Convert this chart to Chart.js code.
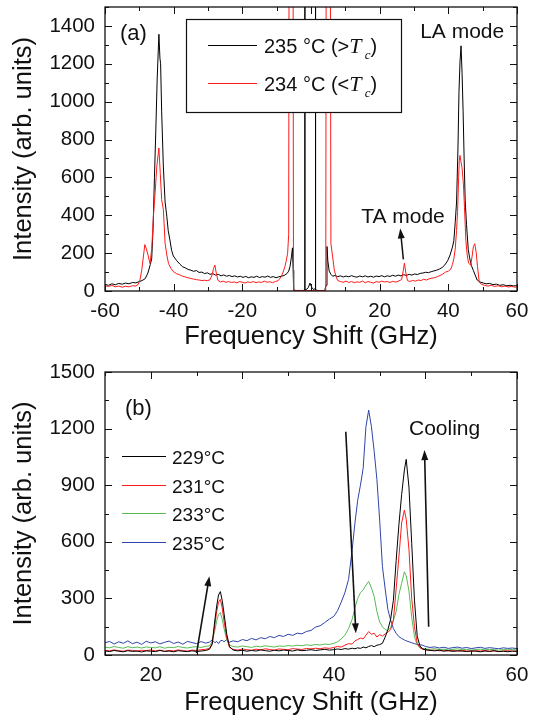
<!DOCTYPE html>
<html>
<head>
<meta charset="utf-8">
<script src="https://cdn.jsdelivr.net/npm/chart.js@4.4.0/dist/chart.umd.min.js"></script>
<style>
  html, body { margin: 0; padding: 0; background: #fff; }
  canvas { display: block; }
</style>
</head>
<body>
<canvas id="chartA" width="536" height="360"></canvas>
<canvas id="chartB" width="536" height="364"></canvas>
<script>
'use strict'

// ---- panel (a): full spectrum, 235 vs 234 C ----
const aFreq235 = [
  -60, -59, -58, -57, -56, -55, -54, -53, -52, -51, -50,
  -49.2, -48.3, -47.5, -46.8, -46.4, -46.0, -45.6, -45.2, -44.8, -44.3, -44.0,
  -43.8, -43.5, -43.0, -42.5, -42.0, -41.6, -41.1, -40.6, -40.1, -39.1, -38.2,
  -37.4, -36.6, -35.8, -35.0, -34.2, -33.4, -32.6, -31.8, -31.0, -30.2, -29.4, -28.6,
  -27.8, -27.0, -26.2, -25.4, -24.6, -23.8, -23.0, -22.2, -21.4, -20.6, -19.8, -19.0,
  -18.2, -17.4, -16.6, -15.8, -15.0, -14.2, -13.4, -12.6, -11.8, -11.0, -10.2, -9.4,
  -8.6, -7.8, -7.0, -6.5, -6.1, -5.7, -5.4, -5.2, -5.05, -4.5, -3.5, -2.5, -1.85, -1.8,
  -1.75, -1.2, -0.8, -0.3, 0.2, 0.7, 1.25, 1.3, 1.35, 2.0, 3.0, 4.0, 4.4, 4.66, 4.9, 5.3,
  5.8, 6.3,
  7.0, 7.8, 8.6, 9.4, 10.2, 11.0, 11.8, 12.6, 13.4, 14.2, 15.0, 15.8, 16.6, 17.4,
  18.2, 19.0, 19.8, 20.6, 21.4, 22.2, 23.0, 23.8, 24.6, 25.4, 26.2, 27.0, 27.8, 28.6,
  29.4, 30.2, 31.0, 31.8, 32.6, 33.4, 34.2, 35.0, 35.8, 36.6, 37.4, 38.2, 39.0, 39.8,
  40.5, 41.2, 41.6, 42.0, 42.4, 42.8, 43.1, 43.4, 43.7, 44.0, 44.3, 44.6, 44.9, 45.3,
  45.8, 46.2, 46.7, 47.3, 47.8, 48.4, 49.2, 50.2,
  51, 52, 53, 54, 55, 56, 57, 58, 59, 60,
]
const aInt235 = [
  35, 30, 38, 33, 40, 36, 42, 38, 45, 43, 50,
  55, 65, 95, 140, 170, 330, 600, 850, 1120, 1356, 1230,
  1200, 950, 655, 470, 395, 320, 270, 215, 185, 160, 142,
  128, 122, 114, 110, 104, 108, 98, 100, 92, 96, 88, 92,
  84, 88, 80, 85, 78, 82, 76, 80, 74, 78, 72, 77,
  70, 75, 72, 78, 71, 76, 73, 79, 72, 76, 70, 75,
  78, 82, 92, 105, 130, 180, 228, 110, 4, 2, 3, 2, 5, 3000,
  5, 10, 18, 42, 20, 8, 12, 3000, 6, 3, 2, 3, 30, 235, 160, 105,
  88, 78,
  82, 76, 80, 74, 79, 75, 81, 76, 73, 79, 75, 80, 74, 78,
  73, 79, 76, 81, 75, 80, 77, 83, 78, 84, 80, 86, 82, 88,
  84, 90, 87, 93, 95, 99, 97, 102, 106, 110, 116, 124, 138, 160,
  190, 232, 265, 360, 470, 750, 1050, 1210, 1295, 1150, 950, 700, 480, 350,
  220, 175, 135, 108, 85, 58, 48, 42,
  38, 40, 34, 36, 30, 33, 28, 30, 27, 28,
]

const aFreq234 = [
  -60, -59, -58, -57, -56, -55, -54, -53, -52, -51,
  -50.3, -49.8, -49.3, -48.8, -48.4, -48.0, -47.4, -46.9, -46.4, -45.9, -45.4, -44.9,
  -44.3, -43.9, -43.5, -43.0, -42.5, -42.0, -41.5, -40.8, -40.1, -39.2, -38.2,
  -37.4, -36.6, -35.8, -35.0, -34.2, -33.4, -32.6, -31.8, -31.0, -30.2, -29.4,
  -28.8, -28.4, -28.0, -27.6, -27.1,
  -26.4, -25.6, -24.8, -24.0, -23.2, -22.4, -21.6, -20.8, -20.0, -19.2, -18.4,
  -17.6, -16.8, -16.0, -15.2, -14.4, -13.6, -12.8, -12.0, -11.2, -10.4, -9.6,
  -8.7, -8.1, -7.6, -7.2, -6.8, -6.5, -6.3, -5.3, -5.1, -4.0, -2.0, 0, 2.0, 4.3, 4.5,
  5.5, 5.8, 6.3, 6.8, 7.3, 7.8,
  8.6, 9.4, 10.2, 11.0, 11.8, 12.6, 13.4, 14.2, 15.0, 15.8, 16.6,
  17.4, 18.2, 19.0, 19.8, 20.6, 21.4, 22.2, 23.0, 23.8, 24.6, 25.4,
  26.4, 26.9, 27.2, 27.6, 28.1,
  28.8, 29.6, 30.4, 31.2, 32.0, 32.8, 33.6, 34.4, 35.2, 36.0, 36.8, 37.6, 38.4, 39.2,
  40.0, 40.7, 41.2, 41.6, 42.0, 42.4, 42.7, 43.0, 43.2, 43.4, 43.7, 44.0, 44.4, 44.7,
  45.1, 45.5, 45.9, 46.5, 46.9, 47.3, 47.7, 48.1, 48.5, 49.0, 49.6,
  50.5, 51.5, 52.5, 53.5, 54.5, 55.5, 56.5, 57.5, 58.5, 59.5, 60,
]
const aInt234 = [
  28, 24, 30, 22, 26, 20, 25, 22, 28, 26,
  35, 60, 110, 185, 245, 225, 185, 145, 220, 395, 520, 660,
  755, 620, 483, 430, 253, 190, 145, 120, 103, 92, 85,
  78, 74, 70, 66, 63, 60, 58, 55, 57, 54, 60,
  85, 118, 137, 95, 56,
  48, 52, 46, 50, 45, 48, 43, 50, 46, 42, 48,
  45, 50, 44, 48, 45, 52, 46, 49, 44, 50, 54,
  75, 100, 130, 160, 200, 300, 3000, 3000, 5, 2, 2, 2, 2, 2, 3000,
  3000, 250, 180, 110, 75, 55,
  50, 46, 52, 45, 50, 44, 48, 46, 52, 44, 50,
  46, 42, 50, 46, 52, 48, 50, 45, 51, 47, 52,
  60, 110, 147, 100, 55,
  50, 56, 52, 58, 55, 62, 58, 64, 68, 70, 76, 82, 90, 100,
  105, 115, 140, 170, 220, 320, 420, 600, 690, 716, 680, 650, 560, 443,
  268, 190, 147, 137, 180, 235, 250, 205, 128, 48, 36,
  30, 26, 30, 24, 28, 22, 26, 21, 24, 20, 22,
]

// ---- panel (b): LA/TA region on cooling ----
const bFreq = [
  15, 15.5, 16, 16.5, 17, 17.5, 18, 18.5, 19, 19.5, 20, 20.5, 21, 21.5, 22, 22.5,
  23, 23.5, 24, 24.5, 25, 25.5, 26,
  26.4, 26.7, 27.0, 27.2, 27.4, 27.6, 27.8, 28.0, 28.3, 28.6,
  29, 29.5, 30, 30.5, 31, 31.5, 32, 32.5, 33, 33.5, 34, 34.5, 35, 35.5, 36, 36.5,
  37, 37.5, 38, 38.5, 39, 39.5,
  40, 40.4, 40.8, 41.2, 41.6, 42.0,
  42.3, 42.6, 42.9, 43.2, 43.5, 43.8, 44.1, 44.4, 44.7, 45.0, 45.3, 45.6, 45.9,
  46.2, 46.5, 46.8, 47.1, 47.4, 47.7,
  47.9, 48.2, 48.5, 48.8, 49.1, 49.4, 49.7,
  50, 50.5, 51, 51.5, 52, 52.5, 53, 53.5, 54, 54.5, 55, 55.5, 56, 56.5, 57, 57.5,
  58, 58.5, 59, 59.5, 60,
]
const bInt229 = [
  22, 18, 24, 20, 17, 23, 19, 21, 16, 22, 20, 18, 24, 19, 21, 17,
  23, 20, 18, 22, 19, 21, 24,
  30, 55, 185, 260, 318, 336, 290, 220, 110, 45,
  26, 22, 25, 20, 24, 21, 27, 23, 20, 25, 22, 26, 24, 21, 27, 23,
  25, 28, 24, 27, 30, 26,
  28, 32, 29, 34, 31, 36,
  33, 38, 35, 42, 38, 45, 50, 44, 52, 55, 62, 95, 135,
  190, 290, 500, 690, 850, 980,
  1037, 890, 592, 291, 100, 48, 32,
  28, 25, 22, 26, 20, 24, 19, 23, 21, 18, 22, 20, 17, 21, 19, 23,
  18, 20, 17, 21, 19,
]
const bInt231 = [
  25, 22, 27, 23, 20, 26, 24, 21, 25, 23, 27, 22, 26, 20, 24, 22,
  27, 23, 21, 26, 24, 28, 30,
  35, 60, 160, 230, 280, 295, 250, 180, 90, 40,
  30, 26, 32, 28, 25, 31, 27, 33, 29, 26, 32, 30, 28, 34, 31, 29,
  35, 32, 36, 33, 38, 35,
  40, 45, 42, 52, 60, 58,
  75, 82, 90, 85, 105, 124, 110, 115, 95, 108, 100, 112, 120,
  135, 185, 350, 520, 700, 768,
  720, 560, 300, 150, 62, 38, 30,
  28, 24, 26, 22, 25, 21, 24, 20, 23, 22, 19, 23, 21, 24, 20, 22,
  18, 21, 23, 19, 20,
]
const bInt233 = [
  42, 38, 45, 40, 36, 44, 39, 42, 37, 43, 40, 38, 44, 36, 41, 39,
  45, 40, 37, 42, 44, 40, 46,
  48, 70, 130, 180, 215, 225, 190, 140, 80, 52,
  45, 42, 48, 44, 40, 47, 43, 49, 45, 42, 48, 46, 50, 47, 52, 49,
  54, 51, 56, 53, 58, 56,
  62, 70, 85, 105, 140, 190,
  250, 300, 330, 345, 370, 390, 355, 310, 230, 175, 150, 135, 130,
  145, 185, 230, 320, 380, 441,
  420, 340, 200, 97, 53, 40, 35,
  32, 30, 34, 28, 31, 27, 30, 33, 28, 30, 26, 29, 31, 27, 30, 28,
  25, 29, 27, 30, 26,
]
const bInt235 = [
  65, 72, 58, 70, 62, 75, 60, 68, 56, 73, 64, 70, 59, 67, 74, 61,
  69, 57, 72, 66, 60, 71, 63,
  68, 80, 65, 72, 60, 75, 78, 70, 82, 68,
  75, 70, 82, 76, 88, 80, 92, 86, 98, 92, 104, 98, 110, 104, 116, 112,
  125, 130, 148, 155, 172, 190,
  205, 235, 280, 330, 400, 560,
  700, 820, 900, 990, 1210, 1298, 1210, 1080, 930, 715, 470, 350, 240,
  185, 140, 115, 97, 88, 80,
  75, 70, 65, 60, 56, 54, 52,
  45, 40, 43, 37, 41, 35, 39, 42, 36, 40, 34, 38, 41, 35, 39, 36,
  33, 38, 35, 37, 34,
]
const bLabels = ['229°C', '231°C', '233°C', '235°C']
const bColors = ['#000000', '#ff1a1a', '#55bb55', '#2f44a8']

const INK = '#111'
const SANS = '"Liberation Sans", Arial, sans-serif'
const SERIF = '"Liberation Serif", "Times New Roman", serif'

Chart.defaults.font.family = SANS
Chart.defaults.color = INK

function pts(xs, ys) {
  if (xs.length !== ys.length) throw new Error('length mismatch ' + xs.length + ' / ' + ys.length)
  return xs.map((x, i) => ({ x, y: ys[i] }))
}

// box frame with inward ticks on all four sides
const framePlugin = {
  id: 'frame',
  afterDatasetsDraw(chart, _args, opts) {
    const { ctx, chartArea: a, scales: { x, y } } = chart
    const isMajor = (scale, v) => scale.ticks.some((t) => Math.abs(t.value - v) < 1e-6)
    const line = (x0, y0, x1, y1) => {
      ctx.beginPath()
      ctx.moveTo(x0, y0)
      ctx.lineTo(x1, y1)
      ctx.stroke()
    }
    ctx.save()
    ctx.strokeStyle = INK
    ctx.lineWidth = 1
    for (let v = x.min; v <= x.max + 1e-9; v += opts.xMinor) {
      const len = isMajor(x, v) ? 7 : 4
      const px = Math.round(x.getPixelForValue(v)) + 0.5
      line(px, a.bottom, px, a.bottom - len)
      line(px, a.top, px, a.top + len)
    }
    for (let v = y.min; v <= y.max + 1e-9; v += opts.yMinor) {
      const len = isMajor(y, v) ? 7 : 4
      const py = Math.round(y.getPixelForValue(v)) + 0.5
      line(a.left, py, a.left + len, py)
      line(a.right, py, a.right - len, py)
    }
    ctx.lineWidth = 1.3
    ctx.strokeRect(a.left, a.top, a.right - a.left, a.bottom - a.top)
    ctx.restore()
  },
}

function richText(ctx, x, y, parts) {
  for (const [t, font, dy] of parts) {
    ctx.font = font
    ctx.fillText(t, x, y + dy)
    x += ctx.measureText(t).width
  }
}

function arrow(ctx, x0, y0, x1, y1) {
  const ang = Math.atan2(y1 - y0, x1 - x0)
  const hl = 10
  const hw = 3.5
  const c = Math.cos(ang)
  const s = Math.sin(ang)
  ctx.beginPath()
  ctx.moveTo(x0, y0)
  ctx.lineTo(x1 - hl * 0.7 * c, y1 - hl * 0.7 * s)
  ctx.stroke()
  ctx.beginPath()
  ctx.moveTo(x1, y1)
  ctx.lineTo(x1 - hl * c + hw * s, y1 - hl * s - hw * c)
  ctx.lineTo(x1 - hl * c - hw * s, y1 - hl * s + hw * c)
  ctx.closePath()
  ctx.fill()
}

function notesA(chart) {
  const { ctx, chartArea: a, scales: { x, y } } = chart
  ctx.save()
  ctx.fillStyle = INK
  ctx.strokeStyle = INK
  ctx.textBaseline = 'alphabetic'
  ctx.font = `22px ${SANS}`
  ctx.fillText('(a)', a.left + 15, a.top + 33)
  ctx.font = `21px ${SANS}`
  ctx.fillText('LA mode', x.getPixelForValue(31.8), y.getPixelForValue(1337))
  ctx.fillText('TA mode', x.getPixelForValue(14.6), y.getPixelForValue(358))
  ctx.lineWidth = 1.5
  arrow(ctx, x.getPixelForValue(26.9), y.getPixelForValue(167), x.getPixelForValue(26.0), y.getPixelForValue(330))

  // legend box
  const bx = a.left + 81
  const by = a.top + 12
  ctx.fillStyle = '#fff'
  ctx.fillRect(bx, by, 215, 93)
  ctx.lineWidth = 1.2
  ctx.strokeRect(bx + 0.5, by + 0.5, 215, 93)
  const rows = [
    { color: '#000', ly: by + 26, sign: '>' },
    { color: '#ff1a1a', ly: by + 64, sign: '<' },
  ]
  rows.forEach((r, i) => {
    ctx.strokeStyle = r.color
    ctx.lineWidth = 1
    ctx.beginPath()
    ctx.moveTo(bx + 22, r.ly + 0.5)
    ctx.lineTo(bx + 71, r.ly + 0.5)
    ctx.stroke()
    ctx.fillStyle = INK
    const temp = i === 0 ? '235' : '234'
    richText(ctx, bx + 78, r.ly + 8, [
      [temp + ' °C (' + r.sign, `20px ${SANS}`, 0],
      ['T', `italic 22px ${SERIF}`, 0],
      [' c', `italic 13px ${SERIF}`, 6],
      [')', `20px ${SANS}`, 0],
    ])
  })
  ctx.restore()
}

function notesB(chart) {
  const { ctx, chartArea: a, scales: { x, y } } = chart
  ctx.save()
  ctx.fillStyle = INK
  ctx.strokeStyle = INK
  ctx.textBaseline = 'alphabetic'
  ctx.font = `22px ${SANS}`
  ctx.fillText('(b)', a.left + 20, a.top + 43)
  ctx.font = `21px ${SANS}`
  ctx.fillText('Cooling', x.getPixelForValue(48.2), y.getPixelForValue(1166))
  ctx.lineWidth = 1.6
  arrow(ctx, x.getPixelForValue(25.0), y.getPixelForValue(10), x.getPixelForValue(26.4), y.getPixelForValue(418))
  arrow(ctx, x.getPixelForValue(41.3), y.getPixelForValue(1183), x.getPixelForValue(42.4), y.getPixelForValue(115))
  arrow(ctx, x.getPixelForValue(50.35), y.getPixelForValue(150), x.getPixelForValue(49.9), y.getPixelForValue(1086))

  ctx.font = `19px ${SANS}`
  bLabels.forEach((label, i) => {
    const ly = Math.round(a.top + 84 + i * 28.7) + 0.5
    ctx.strokeStyle = bColors[i]
    ctx.lineWidth = 1
    ctx.beginPath()
    ctx.moveTo(a.left + 17, ly)
    ctx.lineTo(a.left + 61, ly)
    ctx.stroke()
    ctx.fillText(label, a.left + 67, ly + 7)
  })
  ctx.restore()
}

function makeChart(id, cfg) {
  return new Chart(document.getElementById(id), {
    type: 'line',
    data: { datasets: cfg.datasets },
    options: {
      responsive: false,
      animation: false,
      events: [],
      layout: { padding: { left: 0, right: 19, top: cfg.top, bottom: 0 } },
      elements: { point: { radius: 0 }, line: { borderWidth: 1, tension: 0 } },
      plugins: {
        legend: { display: false },
        tooltip: { enabled: false },
        frame: { xMinor: cfg.xMinor, yMinor: cfg.yMinor },
      },
      scales: {
        x: {
          type: 'linear',
          min: cfg.xMin,
          max: cfg.xMax,
          grid: { display: false, drawTicks: false },
          border: { display: false },
          ticks: {
            stepSize: cfg.xStep, includeBounds: false, autoSkip: false, maxRotation: 0,
            padding: 8, font: { size: 20.5 }, color: INK,
            callback: (v) => String(v),
          },
          title: { display: true, text: 'Frequency Shift (GHz)', font: { size: 25.5 }, color: INK, padding: { top: 0, bottom: cfg.xTitlePad } },
          afterFit(s) {
            s.height = 69
            s.paddingLeft = 0
            s.paddingRight = 0
          },
        },
        y: {
          type: 'linear',
          min: 0,
          max: cfg.yMax,
          grid: { display: false, drawTicks: false },
          border: { display: false },
          ticks: {
            stepSize: cfg.yStep, includeBounds: false, autoSkip: false,
            padding: 10, font: { size: 20.5 }, color: INK,
            callback: (v) => String(v),
          },
          title: { display: true, text: 'Intensity (arb. units)', font: { size: 25.5 }, color: INK, padding: { top: 9, bottom: 0 } },
          afterFit(s) {
            s.width = 105
            s.paddingTop = 0
            s.paddingBottom = 0
          },
        },
      },
    },
    plugins: [framePlugin, { id: 'notes', afterDraw: cfg.notes }],
  })
}

makeChart('chartA', {
  top: 7,
  xMin: -60, xMax: 60, xStep: 20, xMinor: 10,
  yMax: 1500, yStep: 200, yMinor: 100,
  xTitlePad: 8,
  notes: notesA,
  datasets: [
    { label: '235 °C (>Tc)', data: pts(aFreq235, aInt235), borderColor: '#000', order: 1 },
    { label: '234 °C (<Tc)', data: pts(aFreq234, aInt234), borderColor: '#ff1a1a', order: 0 },
  ],
})

makeChart('chartB', {
  top: 12,
  xMin: 15, xMax: 60, xStep: 10, xMinor: 5,
  yMax: 1500, yStep: 300, yMinor: 150,
  xTitlePad: 6,
  notes: notesB,
  datasets: [
    { label: bLabels[0], data: pts(bFreq, bInt229), borderColor: bColors[0], order: 0 },
    { label: bLabels[1], data: pts(bFreq, bInt231), borderColor: bColors[1], order: 1 },
    { label: bLabels[2], data: pts(bFreq, bInt233), borderColor: bColors[2], order: 2 },
    { label: bLabels[3], data: pts(bFreq, bInt235), borderColor: bColors[3], order: 3 },
  ],
})
</script>
</body>
</html>
